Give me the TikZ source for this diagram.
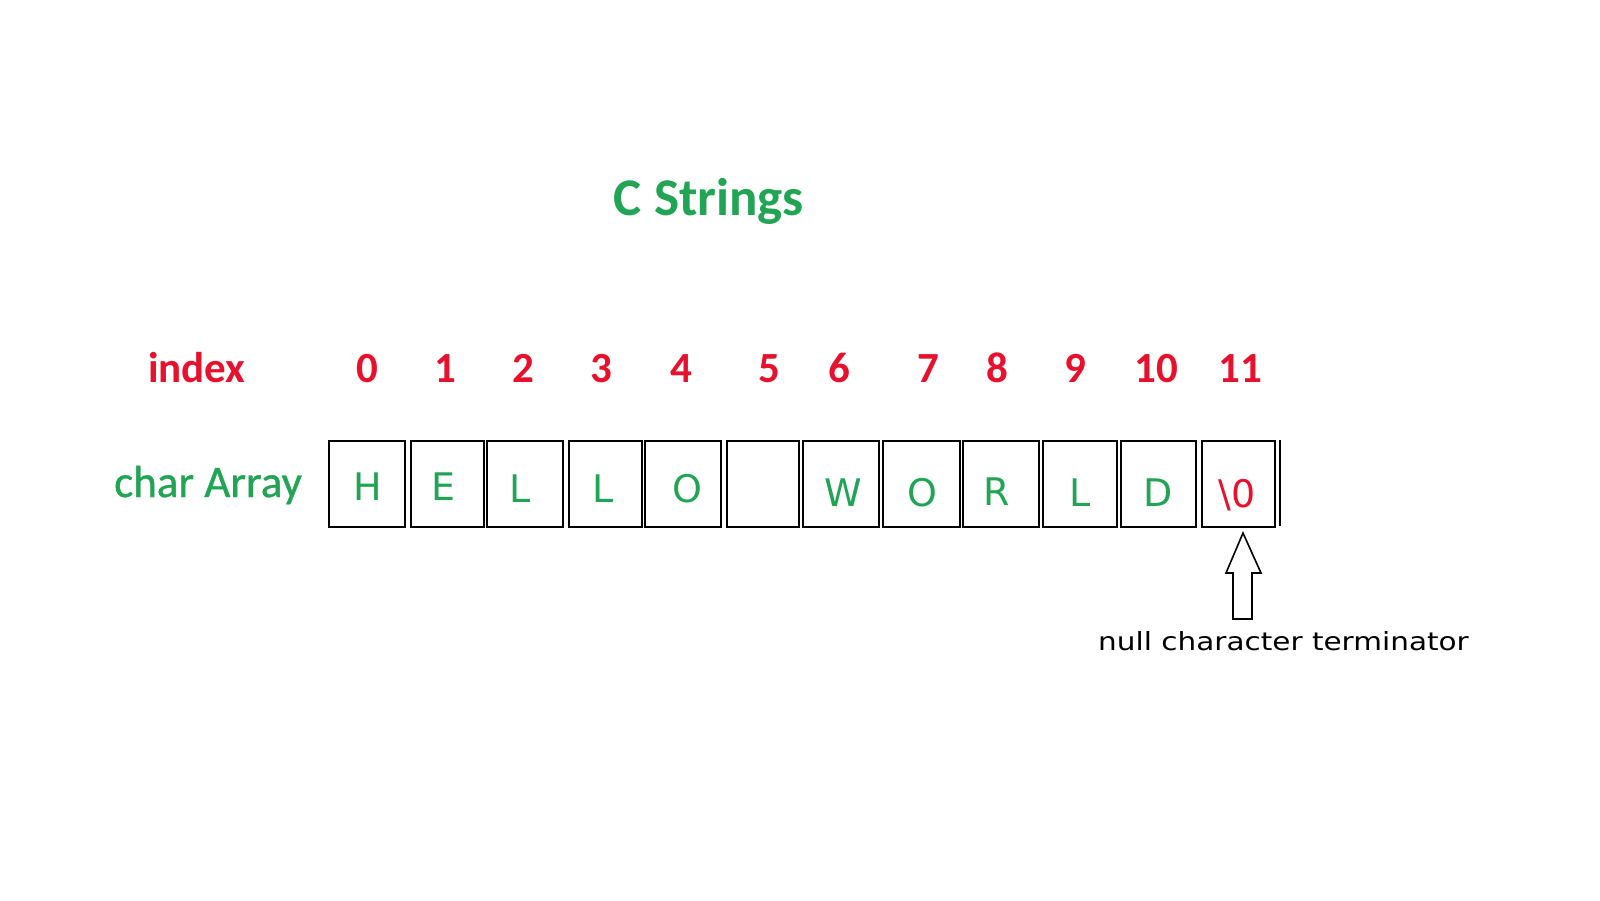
\documentclass[tikz,border=0pt]{standalone}
\usepackage{fontspec}
\setmainfont{Carlito}
\newfontfamily\dvfont{DejaVu Sans}
\newfontfamily\medfont{Carlito}[FakeBold=0.9]
\definecolor{cgreen}{RGB}{33,165,84}
\definecolor{cred}{RGB}{232,17,45}
\begin{document}
\begin{tikzpicture}[x=1pt,y=-1pt,
  cell/.style={draw=black,line width=2pt,rectangle,inner sep=0pt,minimum height=86pt},
  idx/.style={anchor=base,inner sep=0pt,text=cred,font=\fontsize{43}{50}\selectfont\bfseries},
  letter/.style={anchor=base,inner sep=0pt,text=cgreen,font=\dvfont\fontsize{38}{44}\selectfont},
  lbl/.style={anchor=base west,inner sep=0pt}]
\useasboundingbox (0,0) rectangle (1600,900);
\fill[white] (0,0) rectangle (1600,900);
% title
\node[anchor=base,inner sep=0pt,text=cgreen,font=\fontsize{53}{60}\selectfont\bfseries] (title) at (709,215) {C Strings};
% row labels
\node[lbl,text=cred,font=\fontsize{43}{48}\selectfont\bfseries] (index) at (148,382) {index};
\node[lbl,text=cgreen,font=\medfont\fontsize{45}{50}\selectfont] (chararr) at (114,497) {char Array};
% index numbers
\foreach \n/\x in {0/367,1/445,2/523,3/601,4/681,5/769,6/839,7/928,8/997,9/1075,10/1156,11/1240}{
  \node[idx] (i\n) at (\x,382) {\n};
}
% cells
\foreach \n/\l/\r in {0/329/405,1/411/484,2/487/563,3/569/642,4/645/721,5/727/799,6/803/879,7/883/960,8/963/1039,9/1043/1117,10/1121/1196,11/1202/1275}{
  \pgfmathsetmacro{\cx}{(\l+\r)/2}
  \pgfmathsetmacro{\w}{\r-\l}
  \node[cell,minimum width=\w pt] (b\n) at (\cx,484) {};
}
\draw[line width=2pt] (b11.north east) ++(3.5,0) coordinate (ex) -- ++(0,86);
% letters
\node[letter] (c0) at (368,500) {H};
\node[letter] (c1) at (443,500) {E};
\node[letter] (c2) at (520,502) {L};
\node[letter] (c3) at (603,502) {L};
\node[letter] (c4) at (687,502) {O};
\node[letter] (c6) at (843,506) {W};
\node[letter] (c7) at (922,506) {O};
\node[letter] (c8) at (997,505) {R};
\node[letter] (c9) at (1080,506) {L};
\node[letter] (c10) at (1158,506) {D};
\node[letter,text=cred] (c11) at (1237,507) {\textbackslash0};
% arrow
\coordinate (tip) at (1243,533);
\draw[line width=1.6pt,line join=miter]
  (tip) -- ++(18,40) -- ++(-9,0) -- ++(0,46) -- ++(-19,0) -- ++(0,-46) -- ++(-7,0) -- cycle;
% caption
\node[anchor=base west,inner sep=0pt,font=\dvfont\fontsize{25}{30}\selectfont] (note) at (1098,650) {\scalebox{1.18}[1]{null character terminator}};
\end{tikzpicture}
\end{document}
